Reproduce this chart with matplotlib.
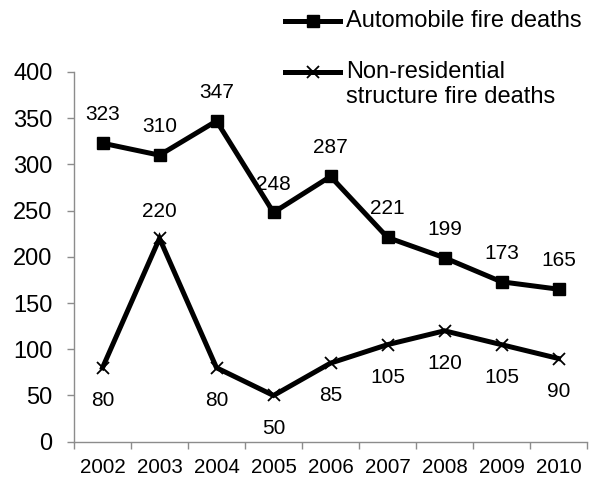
import matplotlib
matplotlib.use("Agg")
import matplotlib.pyplot as plt
from matplotlib.lines import Line2D
from matplotlib.ticker import FixedLocator

plt.rcParams['font.family'] = ['Liberation Sans', 'DejaVu Sans']

years = ["2002", "2003", "2004", "2005", "2006", "2007", "2008", "2009", "2010"]
auto_deaths = [323, 310, 347, 248, 287, 221, 199, 173, 165]
nonres_deaths = [80, 220, 80, 50, 85, 105, 120, 105, 90]

W, H = 596, 479
fig = plt.figure(figsize=(W / 100, H / 100), dpi=100)
ax = fig.add_axes([74 / W, 1 - 441.7 / H, 513 / W, 369.7 / H])

x = list(range(len(years)))
LW = 3.6
ax.plot(x, auto_deaths, color='black', lw=LW, marker='s', ms=9,
        solid_joinstyle='miter')
ax.plot(x, nonres_deaths, color='black', lw=LW, marker='x', ms=9, mew=1.3,
        solid_joinstyle='miter')

for xi, v in zip(x, auto_deaths):
    ax.annotate(str(v), (xi, v), xytext=(0, 20.5), textcoords='offset points',
                ha='center', va='center', fontsize=15)
for xi, v in zip(x, nonres_deaths):
    dy = 19 if v == max(nonres_deaths) else -23.5
    ax.annotate(str(v), (xi, v), xytext=(0, dy), textcoords='offset points',
                ha='center', va='center', fontsize=15)

ax.set_xlim(-0.5, len(years) - 0.5)
ax.set_ylim(0, 400)
ax.set_yticks(range(0, 401, 50))
ax.set_xticks(x)
ax.set_xticklabels(years)
ax.xaxis.set_minor_locator(FixedLocator([i - 0.5 for i in range(len(years) + 1)]))
ax.tick_params(axis='x', which='major', length=0, pad=11.5, labelsize=14.8)
ax.tick_params(axis='x', which='minor', length=5, color='#8c8c8c', width=1)
ax.tick_params(axis='y', length=5, color='#8c8c8c', width=1, labelsize=17, pad=10.5)

for s in ['top', 'right']:
    ax.spines[s].set_visible(False)
for s in ['left', 'bottom']:
    ax.spines[s].set_color('#8c8c8c')
    ax.spines[s].set_linewidth(1)

# legend drawn in figure pixel coordinates
def fx(px):
    return px / W

def fy(py):
    return 1 - py / H

legend_rows = [
    (21, 's', 9, 1.0, ["Automobile fire deaths"]),
    (72, 'x', 9, 1.3, ["Non-residential", "structure fire deaths"]),
]
for yc, mk, ms, mew, lines in legend_rows:
    fig.add_artist(Line2D([fx(285), fx(340)], [fy(yc), fy(yc)], color='black',
                          lw=LW, transform=fig.transFigure))
    fig.add_artist(Line2D([fx(312.5)], [fy(yc)], color='black', marker=mk, ms=ms,
                          mew=mew, transform=fig.transFigure))
    for i, t in enumerate(lines):
        fig.text(fx(346), fy(yc + 25 * i), t, ha='left', va='center', fontsize=17)

fig.savefig('out.png', dpi=100)
